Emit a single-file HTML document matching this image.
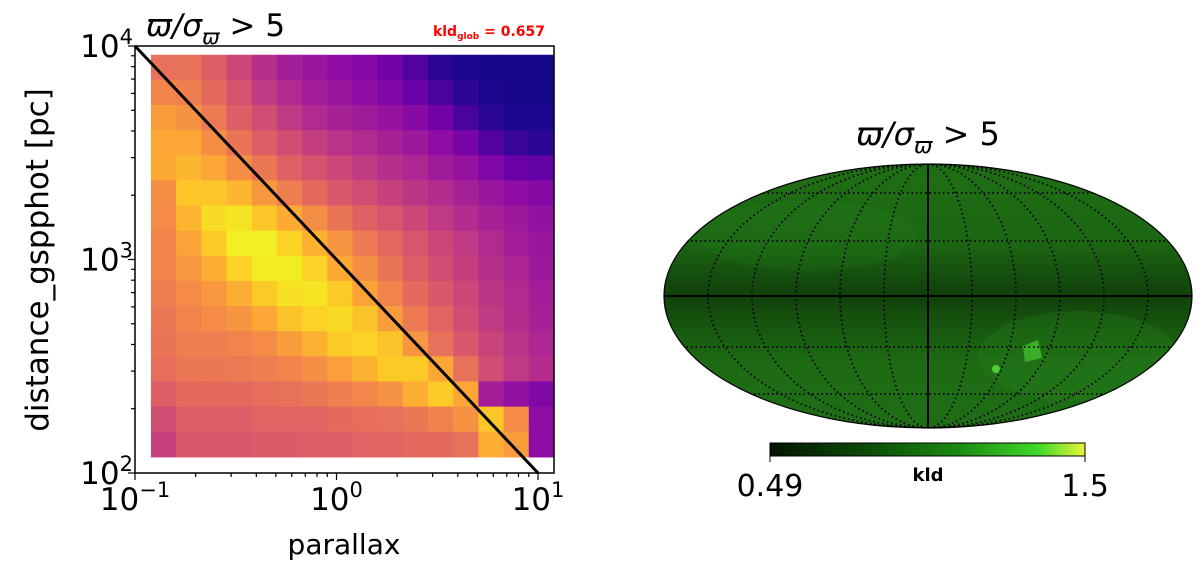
<!DOCTYPE html>
<html><head><meta charset="utf-8"><style>
body{margin:0;background:#fff;width:1200px;height:570px;overflow:hidden}
svg{display:block}
text{font-family:"DejaVu Sans","Liberation Sans",sans-serif}
</style></head><body>
<svg id="fig" width="1200" height="570" viewBox="0 0 1200 570">
<g id="left"></g>
<g id="right"></g>
</svg>
<script>
// ---- Left panel data: 2D histogram (rows top->bottom = high->low distance, cols left->right = low->high parallax)
const heatRows = [
[0.64,0.64,0.58,0.50,0.42,0.36,0.33,0.30,0.27,0.22,0.14,0.06,0.03,0.02,0.02,0.02],
[0.70,0.68,0.62,0.54,0.46,0.40,0.36,0.33,0.30,0.26,0.20,0.12,0.06,0.03,0.02,0.02],
[0.77,0.74,0.67,0.58,0.52,0.45,0.40,0.37,0.35,0.32,0.28,0.22,0.12,0.06,0.03,0.03],
[0.80,0.80,0.73,0.65,0.58,0.52,0.47,0.43,0.40,0.37,0.34,0.30,0.24,0.14,0.08,0.06],
[0.81,0.84,0.80,0.73,0.66,0.59,0.54,0.50,0.46,0.42,0.39,0.35,0.32,0.26,0.20,0.18],
[0.73,0.88,0.88,0.84,0.76,0.68,0.62,0.56,0.52,0.48,0.44,0.41,0.37,0.33,0.30,0.27],
[0.72,0.84,0.93,0.95,0.88,0.81,0.73,0.65,0.59,0.55,0.50,0.45,0.41,0.37,0.34,0.31],
[0.70,0.79,0.89,0.98,0.98,0.91,0.83,0.75,0.67,0.61,0.55,0.50,0.45,0.40,0.36,0.33],
[0.70,0.76,0.82,0.91,0.97,0.97,0.91,0.81,0.73,0.65,0.58,0.52,0.47,0.42,0.38,0.34],
[0.68,0.72,0.76,0.82,0.89,0.94,0.95,0.89,0.79,0.70,0.62,0.56,0.50,0.44,0.40,0.36],
[0.66,0.70,0.72,0.75,0.80,0.87,0.91,0.93,0.87,0.77,0.67,0.60,0.52,0.46,0.41,0.37],
[0.65,0.68,0.68,0.70,0.72,0.77,0.83,0.89,0.91,0.87,0.75,0.64,0.56,0.49,0.43,0.39],
[0.63,0.66,0.66,0.67,0.68,0.70,0.73,0.78,0.83,0.89,0.89,0.80,0.64,0.52,0.45,0.41],
[0.58,0.62,0.62,0.62,0.63,0.64,0.66,0.68,0.71,0.74,0.82,0.89,0.80,0.36,0.31,0.26],
[0.52,0.58,0.58,0.58,0.60,0.60,0.60,0.62,0.63,0.64,0.66,0.69,0.74,0.88,0.72,0.30],
[0.48,0.56,0.56,0.56,0.57,0.57,0.58,0.58,0.60,0.60,0.62,0.62,0.64,0.82,0.77,0.30]
];
const heatXRange = [0.12, 12];   // parallax extent of histogram
const heatYRange = [119, 9100];  // distance extent of histogram
const xTicks = [0.1, 1, 10];
const xTickLabels = ["−1","0","1"];
const yTicks = [100, 1000, 10000];
const yTickLabels = ["2","3","4"];
const refLine = [[0.1,10000],[10,100]];
const kldGlob = "0.657";
const cbarMin = "0.49", cbarMax = "1.5";

const NS="http://www.w3.org/2000/svg";
function mk(tag, attrs, parent){const e=document.createElementNS(NS,tag);for(const k in attrs)e.setAttribute(k,attrs[k]);parent.appendChild(e);return e;}
const L=document.getElementById('left'), R=document.getElementById('right');
const fx0=135, fx1=554, fy0=46, fy1=473;
const xPx = v => 135 + (Math.log10(v)+1)*201.5;
const yPx = v => 473 - (Math.log10(v)-2)*213.5;
const stops=[[0,[13,8,135]],[0.1,[65,4,157]],[0.2,[106,0,168]],[0.3,[143,13,164]],[0.4,[177,42,144]],[0.5,[204,71,120]],[0.6,[225,100,98]],[0.7,[242,132,75]],[0.8,[252,166,54]],[0.9,[252,206,37]],[1,[240,249,33]]];
function plasma(t){t=Math.max(0,Math.min(1,t));for(let i=1;i<stops.length;i++){if(t<=stops[i][0]){const a=stops[i-1],b=stops[i];const f=(t-a[0])/(b[0]-a[0]||1);const c=a[1].map((v,j)=>Math.round(v+(b[1][j]-v)*f));return `rgb(${c})`;}}return 'rgb(240,249,33)';}

const nr=heatRows.length, nc=heatRows[0].length;
const lx0=Math.log10(heatXRange[0]), lx1=Math.log10(heatXRange[1]);
const ly0=Math.log10(heatYRange[0]), ly1=Math.log10(heatYRange[1]);
for(let r=0;r<nr;r++){for(let c=0;c<nc;c++){
  const xa=xPx(10**(lx0+(lx1-lx0)*c/nc)), xb=xPx(10**(lx0+(lx1-lx0)*(c+1)/nc));
  const ya=yPx(10**(ly1-(ly1-ly0)*r/nr)), yb=yPx(10**(ly1-(ly1-ly0)*(r+1)/nr));
  const cell=mk('rect',{x:xa,y:ya,width:xb-xa+0.6,height:yb-ya+0.6,fill:plasma(heatRows[r][c])},L);
  
  
}}
const ln=mk('line',{x1:xPx(refLine[0][0]),y1:yPx(refLine[0][1]),x2:xPx(refLine[1][0]),y2:yPx(refLine[1][1]),stroke:'#000','stroke-width':3},L);


const fr=mk('rect',{x:fx0,y:fy0,width:fx1-fx0,height:fy1-fy0,fill:'none',stroke:'#000','stroke-width':1.5},L);


for(let d=-1;d<=1;d++){for(let m=1;m<10;m++){const v=m*10**d;const x=xPx(v);if(x>fx1)continue;
  mk('line',{x1:x,y1:fy1,x2:x,y2:fy1+(m===1?7:4),stroke:'#000','stroke-width':1.2},L);}}
for(let d=2;d<=3;d++){for(let m=1;m<10;m++){const y=yPx(m*10**d);mk('line',{x1:fx0,y1:y,x2:fx0-(m===1?7:4),y2:y,stroke:'#000','stroke-width':1.2},L);}}
mk('line',{x1:fx0,y1:yPx(10000),x2:fx0-7,y2:yPx(10000),stroke:'#000','stroke-width':1.2},L);
xTicks.forEach((v,i)=>{const t=mk('text',{x:xPx(v),y:510,'font-size':31,'text-anchor':'middle'},L);
  
  
  t.innerHTML=`10<tspan dy="-13" font-size="21">${xTickLabels[i]}</tspan>`;});
yTicks.forEach((v,i)=>{const t=mk('text',{x:133,y:yPx(v)+11,'font-size':31,'text-anchor':'end'},L);
  
  
  t.innerHTML=`10<tspan dy="-13" font-size="21">${yTickLabels[i]}</tspan>`;});
const xl=mk('text',{x:344,y:554,'font-size':28,'text-anchor':'middle'},L);xl.textContent='parallax';


const yl=mk('text',{x:0,y:0,'font-size':31,'text-anchor':'middle',transform:'translate(48,260) rotate(-90)'},L);yl.textContent='distance_gspphot [pc]';


const tt=mk('text',{x:146,y:36,'font-size':31,'font-style':'italic'},L);
tt.innerHTML='ϖ/σ<tspan dy="8" font-size="21">ϖ</tspan><tspan dy="-8" font-style="normal"> &gt; 5</tspan>';


const kt=mk('text',{x:545,y:36,'font-size':14,'font-weight':'bold',fill:'#f00','text-anchor':'end'},L);
kt.innerHTML=`kld<tspan dy="3" font-size="9">glob</tspan><tspan dy="-3"> = ${kldGlob}</tspan>`;



// ---- Right panel: Mollweide sky map
const cx=928, cy=296, rx=264, ry=132;
const defs=mk('defs',{},R);
const cp=mk('clipPath',{id:'ell'},defs);mk('ellipse',{cx,cy,rx,ry},cp);
const lg=mk('linearGradient',{id:'band',x1:0,y1:0,x2:0,y2:1},defs);
[[0,'#1f6e15'],[0.3,'#1c6613'],[0.42,'#154f0e'],[0.5,'#10400a'],[0.58,'#15510e'],[0.75,'#1d6a14'],[1,'#1f6e16']].forEach(s=>mk('stop',{offset:s[0],'stop-color':s[1]},lg));
const sky=mk('g',{'clip-path':'url(#ell)'},R);


mk('rect',{x:cx-rx,y:cy-ry,width:2*rx,height:2*ry,fill:'url(#band)'},sky);
mk('ellipse',{cx:cx-120,cy:cy-60,rx:110,ry:35,fill:'#2a8a1f',opacity:0.15},sky);
mk('ellipse',{cx:cx+150,cy:cy+60,rx:100,ry:45,fill:'#2d8f20',opacity:0.2},sky);
mk('polygon',{points:`${cx+95},${cy+50} ${cx+110},${cy+44} ${cx+114},${cy+62} ${cx+97},${cy+66}`,fill:'#3aae28'},sky);
mk('circle',{cx:cx+68,cy:cy+73,r:4,fill:'#4fcf2e'},sky);
[193,241,347,394].forEach(y=>mk('line',{x1:cx-rx,y1:y,x2:cx+rx,y2:y,stroke:'#000','stroke-width':1.8,'stroke-dasharray':'1.5 3'},sky));
for(let k=1;k<6;k++){mk('ellipse',{cx,cy,rx:rx*k/6,ry,fill:'none',stroke:'#000','stroke-width':1.8,'stroke-dasharray':'1.5 3'},sky);}
mk('line',{x1:cx,y1:cy-ry,x2:cx,y2:cy+ry,stroke:'#000','stroke-width':2},sky);
mk('line',{x1:cx-rx,y1:cy,x2:cx+rx,y2:cy,stroke:'#000','stroke-width':2},sky);
mk('ellipse',{cx,cy,rx,ry,fill:'none',stroke:'#000','stroke-width':1.2},R);
const rt=mk('text',{x:cx,y:145,'font-size':32,'font-style':'italic','text-anchor':'middle'},R);
rt.innerHTML='ϖ/σ<tspan dy="8" font-size="22">ϖ</tspan><tspan dy="-8" font-style="normal"> &gt; 5</tspan>';


const cg=mk('linearGradient',{id:'cb',x1:0,y1:0,x2:1,y2:0},defs);
[[0,'#021402'],[0.3,'#0b4a06'],[0.6,'#1c8a12'],[0.85,'#3ed82a'],[1,'#e8f53a']].forEach(s=>mk('stop',{offset:s[0],'stop-color':s[1]},cg));
const cb=mk('rect',{x:770,y:443,width:315,height:13,fill:'url(#cb)',stroke:'#000','stroke-width':1},R);


mk('line',{x1:770,y1:456,x2:770,y2:462,stroke:'#000'},R);mk('line',{x1:1085,y1:456,x2:1085,y2:462,stroke:'#000'},R);
const c0=mk('text',{x:770,y:496,'font-size':30,'text-anchor':'middle'},R);c0.textContent=cbarMin;


const c1=mk('text',{x:1085,y:496,'font-size':30,'text-anchor':'middle'},R);c1.textContent=cbarMax;


const ck=mk('text',{x:928,y:481,'font-size':18,'font-weight':'bold','text-anchor':'middle'},R);ck.textContent='kld';


</script>
</body></html>
